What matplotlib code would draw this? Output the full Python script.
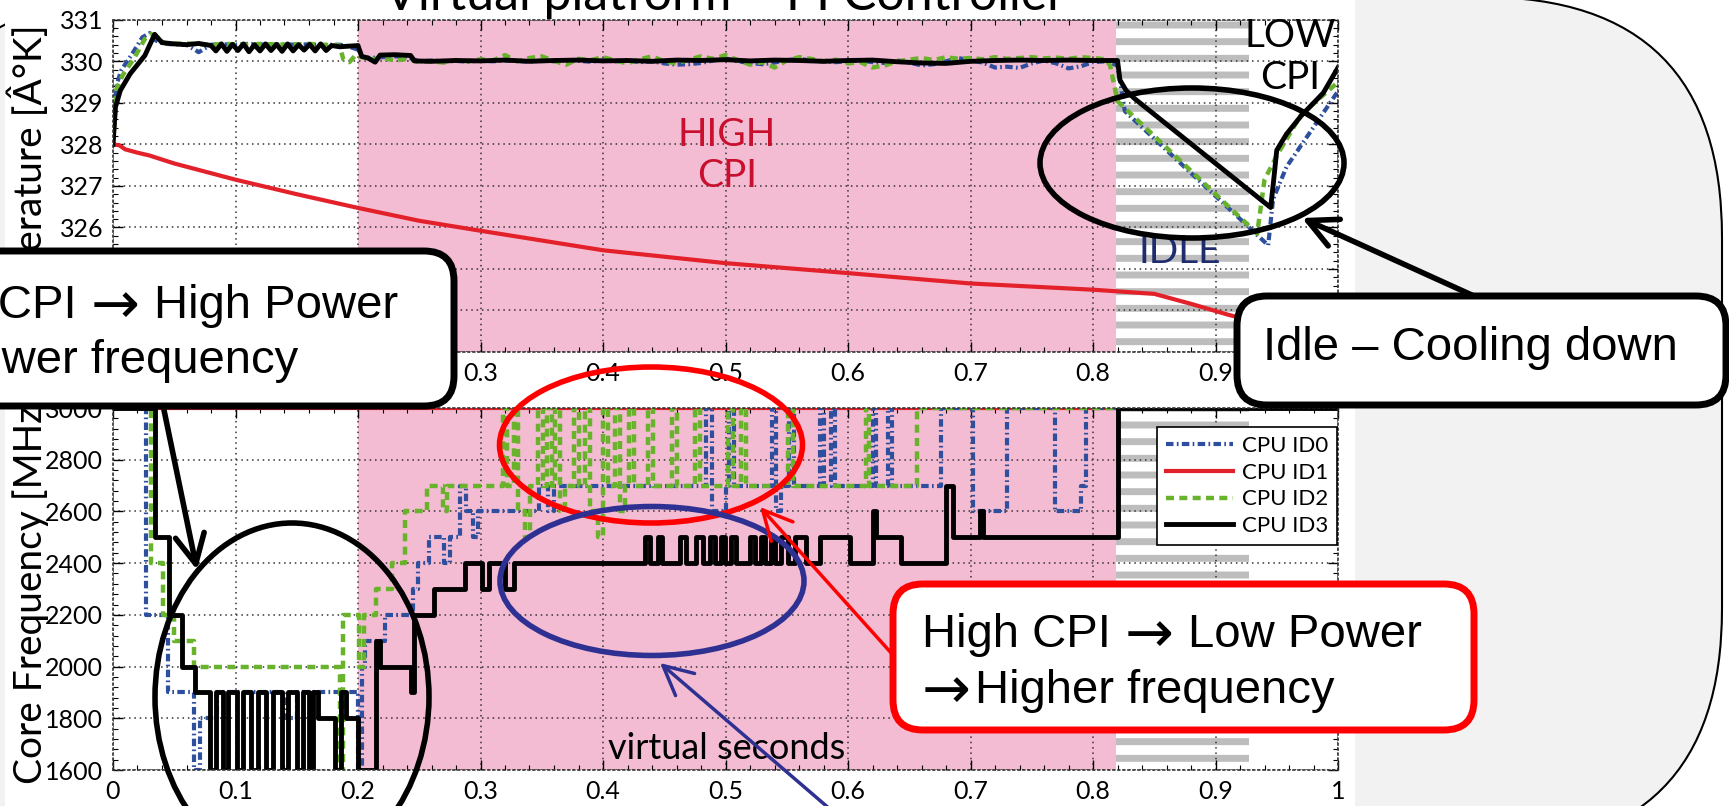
import matplotlib
matplotlib.use("Agg")
import matplotlib.pyplot as plt
from matplotlib.lines import Line2D
from matplotlib.patches import Ellipse, FancyArrowPatch, FancyBboxPatch, Rectangle
from matplotlib.ticker import AutoMinorLocator, MultipleLocator

plt.rcParams["font.family"] = ["Lato", "DejaVu Sans"]
plt.rcParams["hatch.linewidth"] = 5.0

# ---- phases (virtual seconds) ----
HIGH_CPI = (0.2, 0.819)
IDLE = (0.819, 0.927)

# ---- temperature panel [K] ----
temp_cpu1_x = [0, 0.005, 0.01, 0.02, 0.03, 0.05, 0.1, 0.15, 0.2, 0.25, 0.3, 0.4, 0.5,
               0.6, 0.7, 0.8, 0.85, 0.88, 0.91, 0.95, 1.0]
temp_cpu1 = [328.0, 327.98, 327.88, 327.8, 327.73, 327.54, 327.15, 326.8, 326.47, 326.16,
             325.92, 325.45, 325.14, 324.9, 324.65, 324.5, 324.4, 324.16, 323.9, 323.6, 323.4]

early_x = [0.05, 0.06, 0.07, 0.08, 0.09, 0.10, 0.11, 0.12, 0.13, 0.14, 0.15, 0.16, 0.17, 0.18]
plateau_x = [0.21, 0.22, 0.23, 0.24, 0.25, 0.26, 0.27, 0.28, 0.29, 0.30,
             0.31, 0.32, 0.33, 0.34, 0.35, 0.36, 0.37, 0.38, 0.39, 0.40,
             0.41, 0.42, 0.43, 0.44, 0.45, 0.46, 0.47, 0.48, 0.49, 0.50,
             0.51, 0.52, 0.53, 0.54, 0.55, 0.56, 0.57, 0.58, 0.59, 0.60,
             0.61, 0.62, 0.63, 0.64, 0.65, 0.66, 0.67, 0.68, 0.69, 0.70,
             0.71, 0.72, 0.73, 0.74, 0.75, 0.76, 0.77, 0.78, 0.79, 0.80]

temp_cpu2_rise_x = [0, 0.001, 0.003, 0.008, 0.017, 0.026, 0.031, 0.036, 0.042]
temp_cpu2_rise = [328.0, 328.4, 329.35, 329.67, 330.06, 330.54, 330.66, 330.55, 330.44]
temp_cpu2_early = [330.42, 330.43, 330.41, 330.40, 330.42, 330.41, 330.40, 330.42, 330.41,
                   330.40, 330.41, 330.42, 330.40, 330.39]
temp_cpu2_step_x = [0.185, 0.188, 0.193, 0.198, 0.2]
temp_cpu2_step = [330.38, 330.05, 329.98, 330.15, 330.12]
temp_cpu2_plateau = [330.05, 330.08, 330.02, 330.06, 329.98, 330.00, 329.97, 330.03, 330.00, 330.05,
                     330.02, 330.15, 330.00, 330.08, 330.12, 330.01, 329.92, 330.06, 330.03, 330.10,
                     330.02, 329.95, 330.05, 330.12, 330.00, 329.95, 330.04, 330.12, 330.06, 330.15,
                     330.03, 329.92, 329.98, 329.85, 330.02, 330.10, 330.06, 330.00, 330.04, 329.95,
                     329.98, 329.85, 329.90, 330.00, 330.04, 330.08, 330.03, 330.10, 330.06, 330.08,
                     330.05, 330.10, 330.06, 330.08, 330.10, 330.07, 330.09, 330.06, 330.10, 330.08]
temp_cpu2_idle_x = [0.81, 0.814, 0.82, 0.934, 0.94, 0.951, 0.97, 1.0]
temp_cpu2_idle = [330.05, 329.9, 329.04, 325.85, 327.15, 327.78, 328.72, 329.5]

temp_cpu0_rise_x = [0, 0.001, 0.003, 0.007, 0.015, 0.024, 0.03, 0.035, 0.042]
temp_cpu0_rise = [328.0, 328.6, 329.45, 329.8, 330.15, 330.58, 330.68, 330.5, 330.42]
temp_cpu0_early = [330.41, 330.40, 330.22, 330.40, 330.41, 330.40, 330.42, 330.41, 330.39,
                   330.41, 330.40, 330.41, 330.39, 330.40]
temp_cpu0_step_x = [0.185, 0.19, 0.195, 0.2, 0.205]
temp_cpu0_step = [330.40, 330.38, 330.33, 330.28, 330.10]
temp_cpu0_plateau = [330.08, 330.10, 330.12, 330.10, 330.00, 330.02, 330.00, 330.01, 329.99, 330.02,
                     330.00, 330.02, 330.01, 329.99, 330.02, 330.00, 330.03, 330.01, 329.99, 330.02,
                     330.00, 330.02, 329.98, 330.00, 329.95, 329.92, 329.93, 329.96, 330.02, 330.07,
                     330.00, 329.96, 329.93, 329.97, 330.03, 330.06, 330.02, 330.00, 329.98, 330.00,
                     330.02, 329.98, 329.96, 330.02, 329.97, 329.90, 329.93, 330.00, 330.08, 330.02,
                     329.97, 329.85, 329.87, 329.84, 329.95, 330.02, 329.95, 329.83, 329.88, 329.98]
temp_cpu0_idle_x = [0.81, 0.82, 0.826, 0.943, 0.947, 0.958, 1.0]
temp_cpu0_idle = [330.0, 329.9, 328.8, 325.57, 326.68, 327.46, 329.28]

temp_cpu3_x = [0, 0.002, 0.006, 0.014, 0.026, 0.034, 0.040, 0.050, 0.060, 0.070, 0.080,
               0.084, 0.0885, 0.093, 0.0975, 0.102, 0.1065, 0.111, 0.1155, 0.12, 0.1245, 0.129,
               0.1335, 0.138, 0.1425, 0.147, 0.1515, 0.156, 0.1605, 0.165, 0.1695, 0.174, 0.1785,
               0.185, 0.195, 0.2, 0.203, 0.208, 0.214, 0.218, 0.23, 0.243, 0.246,
               0.26, 0.28, 0.30, 0.32, 0.34, 0.36, 0.38, 0.40, 0.42, 0.44, 0.46, 0.48, 0.50, 0.52,
               0.54, 0.56, 0.58, 0.60, 0.62, 0.64, 0.66, 0.68, 0.70, 0.72, 0.74, 0.76, 0.78, 0.80,
               0.82, 0.822, 0.827, 0.834, 0.945, 0.947, 0.95, 0.958, 0.97, 0.988, 1.0]
temp_cpu3 = [328.0, 328.9, 329.3, 329.7, 330.14, 330.65, 330.45, 330.42, 330.40, 330.43, 330.38,
             330.25, 330.42, 330.24, 330.41, 330.26, 330.42, 330.23, 330.40, 330.25, 330.42, 330.26,
             330.41, 330.24, 330.42, 330.25, 330.40, 330.27, 330.41, 330.25, 330.42, 330.26, 330.38,
             330.35, 330.37, 330.38, 330.12, 330.08, 329.98, 330.15, 330.16, 330.14, 330.01,
             330.00, 330.02, 330.01, 330.03, 330.00, 330.02, 330.03, 330.01, 330.02, 330.00, 330.03,
             330.02, 330.04, 330.01, 330.03, 330.02, 330.00, 330.02, 330.03, 329.99, 329.96, 329.95,
             330.00, 330.02, 330.03, 330.02, 330.03, 330.02,
             330.02, 329.55, 329.3, 329.1, 326.48, 327.0, 327.86, 328.25, 328.69, 329.24, 329.85]

# ---- core frequency panel [MHz], step breakpoints ----
freq_cpu1_x = [0, 1.0]
freq_cpu1 = [3000, 3000]

freq_cpu3_x = [0, 0.034, 0.046, 0.056, 0.067, 0.079, 0.084, 0.090, 0.094, 0.101, 0.106, 0.113,
               0.118, 0.125, 0.131, 0.138, 0.143, 0.150, 0.155, 0.160, 0.163, 0.167, 0.181, 0.186,
               0.190, 0.200, 0.215, 0.218, 0.243, 0.246, 0.262, 0.287, 0.301, 0.307, 0.320, 0.327,
               0.434, 0.438, 0.445, 0.448, 0.4626, 0.468, 0.476, 0.4816, 0.487, 0.4912, 0.4966,
               0.4993, 0.5048, 0.5088, 0.5197, 0.5238, 0.5293, 0.532, 0.5374, 0.5401, 0.5456, 0.551,
               0.5565, 0.566, 0.577, 0.6014, 0.6204, 0.6225, 0.6436, 0.6803, 0.686, 0.7075, 0.7105,
               0.8204, 1.0]
freq_cpu3 = [3000, 2500, 2200, 2000, 1900, 1600, 1900, 1600, 1900, 1600, 1900, 1600,
             1900, 1600, 1900, 1600, 1900, 1600, 1900, 1600, 1900, 1800, 1600, 1900,
             1800, 1600, 2100, 2000, 1900, 2200, 2300, 2400, 2300, 2400, 2300, 2400,
             2500, 2400, 2500, 2400, 2500, 2400, 2500, 2400, 2500, 2400, 2500,
             2400, 2500, 2400, 2500, 2400, 2500, 2400, 2500, 2400, 2500, 2400,
             2500, 2400, 2500, 2400, 2600, 2500, 2400, 2700, 2500, 2600, 2500,
             3000, 3000]

freq_cpu2_x = [0, 0.031, 0.041, 0.050, 0.066, 0.185, 0.188, 0.201, 0.205, 0.215,
               0.228, 0.238, 0.256, 0.269, 0.273, 0.318, 0.322, 0.327, 0.331, 0.336,
               0.340, 0.347, 0.351, 0.354, 0.358, 0.361, 0.365, 0.369, 0.376, 0.380,
               0.385, 0.389, 0.396, 0.400, 0.404, 0.410, 0.414, 0.418, 0.421, 0.425,
               0.437, 0.441, 0.456, 0.460, 0.475, 0.479, 0.502, 0.506, 0.513, 0.517,
               0.551, 0.555, 0.615, 0.617, 0.656, 1.0]
freq_cpu2 = [3000, 2400, 2200, 2100, 2000, 1600, 2200, 2000, 2200, 2300,
             2400, 2600, 2700, 2600, 2700, 3000, 2700, 3000, 2600, 2500,
             2700, 3000, 2700, 3000, 2700, 3000, 2600, 2700, 3000, 2700,
             3000, 2600, 2500, 3000, 2700, 3000, 2600, 2700, 3000, 2700,
             3000, 2700, 3000, 2700, 3000, 2700, 3000, 2700, 3000, 2700,
             3000, 2700, 3000, 2700, 3000, 3000]

freq_cpu0_x = [0, 0.027, 0.045, 0.066, 0.071, 0.085, 0.140, 0.150, 0.200, 0.203,
               0.206, 0.222, 0.245, 0.249, 0.258, 0.270, 0.275, 0.283, 0.288, 0.294,
               0.298, 0.348, 0.355, 0.360, 0.484, 0.489, 0.500, 0.503, 0.507, 0.538,
               0.541, 0.545, 0.552, 0.556, 0.577, 0.580, 0.586, 0.589, 0.620, 0.623,
               0.633, 0.636, 0.676, 0.702, 0.730, 0.769, 0.790, 0.794, 1.0]
freq_cpu0 = [3000, 2200, 1900, 1600, 1800, 1900, 1800, 1900, 1600, 2000,
             2100, 2200, 2300, 2400, 2500, 2400, 2500, 2700, 2600, 2500,
             2600, 2700, 2600, 2700, 3000, 2600, 2700, 3000, 2700, 3000,
             2600, 2700, 3000, 2700, 3000, 2700, 3000, 2700, 3000, 2700,
             3000, 2700, 3000, 2600, 3000, 2600, 2700, 3000, 3000]

series_labels = ["CPU ID0", "CPU ID1", "CPU ID2", "CPU ID3"]

# ---- styling ----
W, H = 1729, 806
BLUE = "#2d4f9e"
RED = "#e3212b"
GREEN = "#69b32c"
PINK = "#f4bcd3"
ZEBRA = "#bdbdbd"
NAVY = "#2e3192"
CALLOUT_FONT = ["Liberation Sans", "DejaVu Sans"]
STYLES = {
    "CPU ID0": dict(color=BLUE, lw=3.0, dashes=(1.8, 0.8, 0.4, 0.8)),
    "CPU ID1": dict(color=RED, lw=3.0, linestyle="-"),
    "CPU ID2": dict(color=GREEN, lw=3.2, dashes=(1.8, 1.2)),
    "CPU ID3": dict(color="black", lw=3.5, linestyle="-"),
}
ARROW = "→"


def at(x, y):
    # figure pixel (origin top-left) -> inches (origin bottom-left)
    return (x / 100.0, (H - y) / 100.0)


def style_axes(ax, major_y):
    ax.set_xlim(0, 1)
    ax.xaxis.set_major_locator(MultipleLocator(0.1))
    ax.yaxis.set_major_locator(MultipleLocator(major_y))
    ax.xaxis.set_minor_locator(AutoMinorLocator(5))
    ax.yaxis.set_minor_locator(AutoMinorLocator(5))
    ax.grid(True, which="major", linestyle=(0, (1, 2.5)), color="#333333", lw=1.1)
    ax.tick_params(which="both", direction="in", top=True, right=True, labelsize=18, pad=7)
    ax.tick_params(which="major", length=7, width=1)
    ax.tick_params(which="minor", length=3.5, width=0.8)
    ax.xaxis.set_major_formatter(plt.FuncFormatter(lambda v, _: f"{v:g}"))
    for spine in ax.spines.values():
        spine.set_linestyle((0, (1, 2)))
        spine.set_color("#333333")
        spine.set_linewidth(1.2)
    ax.axvspan(*HIGH_CPI, facecolor=PINK, edgecolor="none", zorder=0.5)
    ax.axvspan(*IDLE, facecolor="white", edgecolor=ZEBRA, hatch="-", linewidth=0, zorder=0.5)


fig = plt.figure(figsize=(W / 100, H / 100), dpi=100)
inch = fig.dpi_scale_trans
renderer = fig.canvas.get_renderer()


def write_line(x, baseline, pieces):
    # pieces: strings, or numbers for a pixel gap; arrows use a larger DejaVu glyph
    for piece in pieces:
        if not isinstance(piece, str):
            x += piece
            continue
        if piece == ARROW:
            t = fig.text(x / W, 1 - (baseline + 5) / H, piece, ha="left", va="baseline",
                         fontsize=42, family=["DejaVu Sans"], zorder=8)
        else:
            t = fig.text(x / W, 1 - baseline / H, piece, ha="left", va="baseline", fontsize=34,
                         family=CALLOUT_FONT, zorder=8)
        x += t.get_window_extent(renderer).width


# slide background: gray rounded panel and white chart area
fig.add_artist(FancyBboxPatch(at(-100, 849), 18.22, 8.52, boxstyle="round,pad=0,rounding_size=2.4",
                              transform=inch, facecolor="#f2f2f2", edgecolor="black", lw=1.5, zorder=-3))
fig.add_artist(Rectangle(at(5, 806), 13.5, 8.06, transform=inch, facecolor="white",
                         edgecolor="none", zorder=-2))

ax_t = fig.add_axes([113 / W, 1 - 352 / H, 1225 / W, (352 - 19.8) / H])
ax_b = fig.add_axes([113 / W, 1 - 770 / H, 1225 / W, 362 / H])

# temperature
ax_t.plot(temp_cpu1_x, temp_cpu1, **STYLES["CPU ID1"])
ax_t.plot(temp_cpu0_rise_x + early_x + temp_cpu0_step_x + plateau_x + temp_cpu0_idle_x,
          temp_cpu0_rise + temp_cpu0_early + temp_cpu0_step + temp_cpu0_plateau + temp_cpu0_idle,
          **STYLES["CPU ID0"])
ax_t.plot(temp_cpu2_rise_x + early_x + temp_cpu2_step_x + plateau_x + temp_cpu2_idle_x,
          temp_cpu2_rise + temp_cpu2_early + temp_cpu2_step + temp_cpu2_plateau + temp_cpu2_idle,
          **STYLES["CPU ID2"])
ax_t.plot(temp_cpu3_x, temp_cpu3, **STYLES["CPU ID3"])
ax_t.set_ylim(323, 331)
style_axes(ax_t, 1)
ax_t.set_ylabel("Temperature [Â°K]", fontsize=28)
ax_t.yaxis.set_label_coords(-0.052, 0.5)
ax_t.text(0.501, 327.73, "HIGH\nCPI", color="#c8102e", fontsize=28, ha="center", va="center",
          linespacing=1.15)
ax_t.text(0.871, 325.4, "IDLE", color="#1f2d6e", fontsize=28, ha="center", va="center")
ax_t.text(0.961, 330.1, "LOW\nCPI", color="black", fontsize=28, ha="center", va="center",
          linespacing=1.2)

# frequency
ax_b.plot(freq_cpu1_x, freq_cpu1, drawstyle="steps-post", **STYLES["CPU ID1"])
ax_b.plot(freq_cpu0_x, freq_cpu0, drawstyle="steps-post", **STYLES["CPU ID0"])
ax_b.plot(freq_cpu2_x, freq_cpu2, drawstyle="steps-post", **STYLES["CPU ID2"])
ax_b.plot(freq_cpu3_x, freq_cpu3, drawstyle="steps-post", **STYLES["CPU ID3"])
ax_b.set_ylim(1600, 3000)
style_axes(ax_b, 200)
ax_b.set_ylabel("Core Frequency [MHz]", fontsize=28)
ax_b.yaxis.set_label_coords(-0.052, 0.5)
ax_b.text(0.501, 1685, "virtual seconds", fontsize=26, ha="center", va="center")

handles = [Line2D([], [], **STYLES[name]) for name in series_labels]
leg = ax_b.legend(handles, series_labels, loc="upper right", bbox_to_anchor=(0.999, 0.947),
                  borderaxespad=0, fancybox=False, edgecolor="black", framealpha=1, fontsize=16,
                  handlelength=3.0, labelspacing=0.3, borderpad=0.4, handletextpad=0.4)
leg.get_frame().set_linewidth(1.2)

fig.text(725 / W, 1 - 10 / H, "Virtual platform – PI Controller", ha="center", va="baseline",
         fontsize=36)

# ---- annotation overlay ----
for cx, cy, w, h, col in [(1192, 163, 304, 150, "black"), (651, 445, 303, 156, "#ff0000"),
                          (652, 581, 304, 149, NAVY), (292, 697, 274, 348, "black")]:
    fig.add_artist(Ellipse(at(cx, cy), w / 100, h / 100, transform=inch, fill=False,
                           edgecolor=col, lw=4, zorder=5))

for start, end, col, lw in [((164, 410), (197, 570), "black", 4), ((1474, 296), (1302, 218), "black", 4),
                            ((893, 655), (760, 507), "#ff0000", 2.5), ((838, 816), (660, 663), NAVY, 2.5)]:
    fig.add_artist(FancyArrowPatch(at(*start), at(*end), transform=inch, color=col, lw=lw,
                                   arrowstyle="->,head_length=0.7,head_width=0.35", mutation_scale=30,
                                   shrinkA=0, shrinkB=0, zorder=6))

for (x0, y0, x1, y1), col in [((-30, 251, 454, 406), "black"), ((1237, 296, 1726, 405), "black"),
                              ((893, 584, 1474, 730), "#ff0000")]:
    fig.add_artist(FancyBboxPatch(at(x0, y1), (x1 - x0) / 100, (y1 - y0) / 100,
                                  boxstyle="round,pad=0,rounding_size=0.3", transform=inch,
                                  facecolor="white", edgecolor=col, lw=5, zorder=7))

write_line(-102, 318, ["Low CPI", 14, ARROW, 14, "High Power"])
write_line(-104, 373, [ARROW, 4, "Lower frequency"])
write_line(1263, 360, ["Idle – Cooling down"])
write_line(922, 647, ["High CPI", 14, ARROW, 14, "Low Power"])
write_line(922, 703, [ARROW, 4, "Higher frequency"])

fig.savefig("out.png", dpi=100)
